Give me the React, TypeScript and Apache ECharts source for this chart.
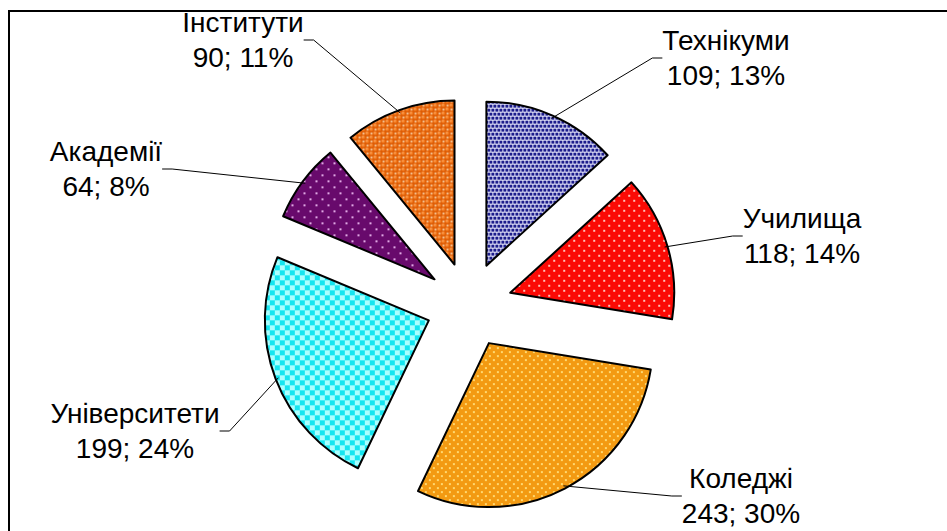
import React, { useEffect, useRef } from "react";
import * as echarts from "echarts";

const categories = ["Технікуми", "Училища", "Коледжі", "Університети", "Академії", "Інститути"];
const values = [109, 118, 243, 199, 64, 90];

// label block centres (layout only)
const LABEL_POS: [number, number][] = [
  [726, 58],
  [802, 236],
  [741, 496],
  [135, 431],
  [106, 169],
  [243, 40],
];

type Painter = (ctx: CanvasRenderingContext2D) => void;

function makeTile(size: number, paint: Painter) {
  const c = document.createElement("canvas");
  c.width = size;
  c.height = size;
  const ctx = c.getContext("2d")!;
  paint(ctx);
  return { image: c.toDataURL(), repeat: "repeat", imageWidth: size, imageHeight: size };
}

function buildPatterns() {
  const p1 = makeTile(8, (ctx) => {
    ctx.fillStyle = "#eeeeff";
    ctx.fillRect(0, 0, 8, 8);
    ctx.fillStyle = "#1c1c8c";
    ctx.fillRect(0, 0, 3, 3);
    ctx.fillRect(4, 0, 3, 3);
    ctx.fillRect(2, 4, 3, 3);
    ctx.fillRect(6, 4, 2, 3);
    ctx.fillRect(0, 4, 1, 3);
  });
  const p2 = makeTile(10, (ctx) => {
    ctx.fillStyle = "#fb0a05";
    ctx.fillRect(0, 0, 10, 10);
    ctx.fillStyle = "#ffc0b8";
    ctx.fillRect(2, 2, 2, 2);
    ctx.fillRect(7, 7, 2, 2);
  });
  const p3 = makeTile(8, (ctx) => {
    ctx.fillStyle = "#f39a12";
    ctx.fillRect(0, 0, 8, 8);
    ctx.fillStyle = "#ffd870";
    ctx.fillRect(1, 1, 2, 2);
    ctx.fillRect(5, 5, 2, 2);
  });
  const p4 = makeTile(10, (ctx) => {
    ctx.fillStyle = "#14e6f0";
    ctx.fillRect(0, 0, 10, 10);
    ctx.fillStyle = "#aaffff";
    ctx.fillRect(0, 0, 5, 5);
    ctx.fillRect(5, 5, 5, 5);
  });
  const p5 = makeTile(12, (ctx) => {
    ctx.fillStyle = "#680a6c";
    ctx.fillRect(0, 0, 12, 12);
    ctx.fillStyle = "#e0a8e4";
    ctx.fillRect(2, 2, 2, 2);
    ctx.fillRect(8, 8, 2, 2);
  });
  const p6 = makeTile(8, (ctx) => {
    ctx.fillStyle = "#ffe6c0";
    ctx.fillRect(0, 0, 8, 8);
    const ball = (x: number, y: number) => {
      const g = ctx.createRadialGradient(x - 0.9, y - 0.9, 0.3, x, y, 3.2);
      g.addColorStop(0, "#ffa860");
      g.addColorStop(0.5, "#f07010");
      g.addColorStop(1, "#d05000");
      ctx.fillStyle = g;
      ctx.beginPath();
      ctx.arc(x, y, 3.2, 0, Math.PI * 2);
      ctx.fill();
    };
    for (const [x, y] of [[2, 2], [6, 6], [10, 2], [2, 10], [-2, 6], [6, -2], [10, 10], [-2, -2], [10, 6], [6, 10], [-2, 2], [2, -2]]) {
      if ((x + y) % 8 === 4 || (x + y) % 8 === -4 || (x - y) % 8 === 0) ball(x, y);
    }
  });
  return [p1, p2, p3, p4, p5, p6];
}

const CENTER = [469, 305];
const RADIUS = 164;
const EXPLODE = 43;

export default function App() {
  const ref = useRef<HTMLDivElement>(null);
  useEffect(() => {
    if (!ref.current) return;
    const chart = echarts.init(ref.current, undefined, { renderer: "svg" });
    const patterns = buildPatterns();
    chart.setOption({
      animation: false,
      backgroundColor: "#ffffff",
      graphic: [
        {
          type: "rect",
          shape: { x: 9, y: 11, width: 960, height: 560 },
          style: { fill: "none", stroke: "#000", lineWidth: 2 },
          silent: true,
        },
      ],
      series: [
        {
          type: "pie",
          center: CENTER,
          radius: RADIUS,
          startAngle: 90,
          clockwise: true,
          selectedMode: "multiple",
          selectedOffset: EXPLODE,
          percentPrecision: 0,
          itemStyle: { borderColor: "#000", borderWidth: 2 },
          select: { itemStyle: { borderColor: "#000", borderWidth: 2 } },
          emphasis: { disabled: true },
          label: { show: false },
          labelLine: { show: false },
          data: categories.map((name, i) => ({
            name,
            value: values[i],
            selected: true,
            itemStyle: { color: patterns[i] },
          })),
        },
        {
          // invisible carrier for the data labels, outer edge at exploded radius
          type: "pie",
          center: CENTER,
          radius: RADIUS + EXPLODE - 3,
          startAngle: 90,
          clockwise: true,
          silent: true,
          selectedMode: false,
          percentPrecision: 0,
          avoidLabelOverlap: false,
          itemStyle: { color: "rgba(0,0,0,0)", borderWidth: 0 },
          emphasis: { disabled: true },
          z: 3,
          label: {
            show: true,
            position: "outside",
            formatter: "{b}\n{c}; {d}%",
            fontFamily: "Liberation Sans, Arial, sans-serif",
            fontSize: 28,
            lineHeight: 35,
            color: "#000",
            align: "center",
          },
          labelLine: {
            show: true,
            length: 8,
            length2: 10,
            lineStyle: { color: "#000", width: 1 },
          },
          labelLayout: (params: any) => {
            const p = LABEL_POS[params.dataIndex];
            return { x: p[0], y: p[1], align: "center", verticalAlign: "middle" };
          },
          data: categories.map((name, i) => ({ name, value: values[i] })),
        },
      ],
    });
    return () => chart.dispose();
  }, []);
  return (
    <div
      ref={ref}
      style={{ position: "absolute", left: 0, top: 0, width: 947, height: 531 }}
    />
  );
}
